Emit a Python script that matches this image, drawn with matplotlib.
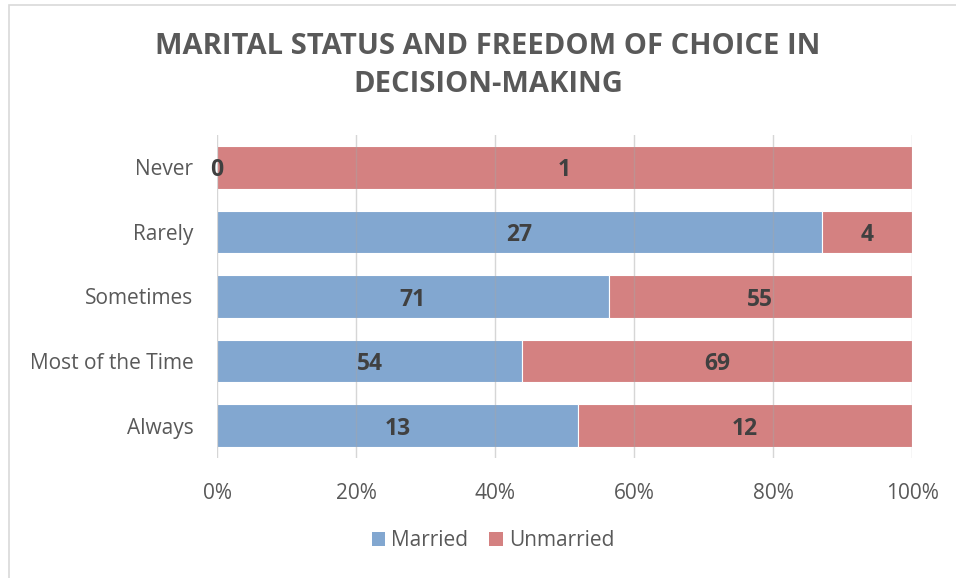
import matplotlib
matplotlib.use("Agg")
import numpy as np
import matplotlib.pyplot as plt
from matplotlib.patches import Rectangle, Patch

# responses by marital status
categories = ["Always", "Most of the Time", "Sometimes", "Rarely", "Never"]
married = [13, 54, 71, 27, 0]
unmarried = [12, 69, 55, 4, 1]
xticks = [0, 20, 40, 60, 80, 100]

plt.rcParams['font.family'] = ['Open Sans', 'DejaVu Sans']

BLUE = '#82A7D0'
RED = '#D48181'
TXT = '#595959'

fig = plt.figure(figsize=(9.56, 5.78), dpi=100)
ax = fig.add_axes([217/956, 1-458/578, (912-217)/956, (458-135)/578])

m = np.array(married, dtype=float)
u = np.array(unmarried, dtype=float)
tot = m + u
mp = m / tot * 100
up = u / tot * 100
y = np.arange(len(categories))

ax.barh(y, mp, height=0.66, color=BLUE, edgecolor='white', linewidth=0.8, zorder=2)
ax.barh(y, up, left=mp, height=0.66, color=RED, edgecolor='white', linewidth=0.8, zorder=2)

for i in range(len(categories)):
    ax.text(mp[i] / 2, y[i], str(married[i]), ha='center', va='center_baseline',
            fontsize=16.5, fontweight='bold', color='#404040', zorder=4)
    ax.text(mp[i] + up[i] / 2, y[i], str(unmarried[i]), ha='center', va='center_baseline',
            fontsize=16.5, fontweight='bold', color='#404040', zorder=4)

# gridlines show faintly through the bars
for t in xticks:
    ax.axvline(t, color='#A6A6A6', linewidth=1.0, alpha=0.45, zorder=3)

ax.set_xlim(0, 100)
ax.set_ylim(-0.5, len(categories) - 0.5)
ax.set_xticks(xticks)
ax.set_xticklabels([f"{t}%" for t in xticks])
ax.set_yticks(y)
ax.set_yticklabels(categories)
ax.tick_params(axis='both', length=0, labelsize=15, labelcolor=TXT)
ax.tick_params(axis='x', pad=18)
ax.tick_params(axis='y', pad=17)
for s in ax.spines.values():
    s.set_visible(False)

fig.text(488/956, 1-46/578, "MARITAL STATUS AND FREEDOM OF CHOICE IN", ha='center', va='center',
         fontsize=21, fontweight='bold', color=TXT)
fig.text(488/956, 1-84/578, "DECISION-MAKING", ha='center', va='center',
         fontsize=21, fontweight='bold', color=TXT)

handles = [Patch(facecolor=BLUE, label='Married'), Patch(facecolor=RED, label='Unmarried')]
fig.legend(handles=handles, loc='center', bbox_to_anchor=(493/956, 1-541/578), ncol=2,
           frameon=False, fontsize=15, labelcolor=TXT, handlelength=0.65, handleheight=0.65,
           handletextpad=0.3, columnspacing=1.0)

# chart area border
fig.patches.append(Rectangle((9/956, -0.1), 1.2, 1 - 5/578 + 0.1, transform=fig.transFigure,
                             fill=False, edgecolor='#D9D9D9', linewidth=1.2))

fig.savefig('out.png', dpi=100)
